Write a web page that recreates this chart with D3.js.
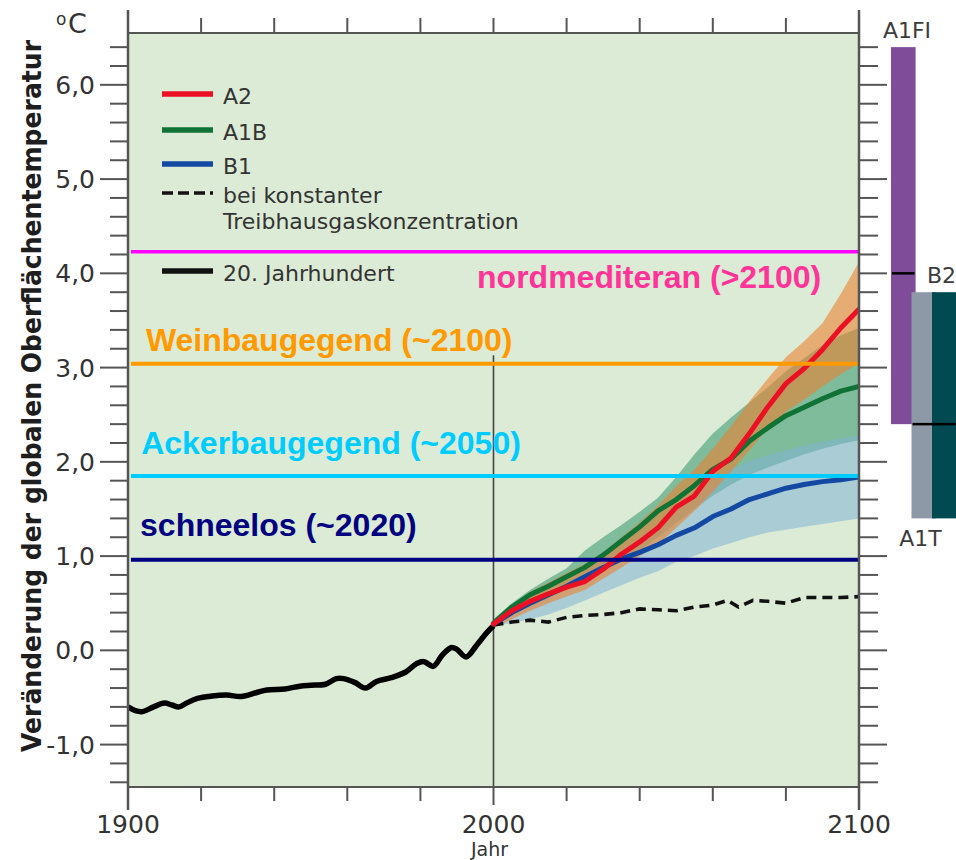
<!DOCTYPE html>
<html>
<head>
<meta charset="utf-8">
<script src="https://cdn.jsdelivr.net/npm/d3@7"></script>
<style>
  body { margin: 0; background: #fff; }
  svg { display: block; }
</style>
</head>
<body>
<svg id="chart" width="956" height="860"></svg>
<script>
// ---- data ----
const histYears = [1900, 1902, 1904, 1907, 1910, 1912, 1914, 1916, 1919, 1923, 1927, 1931, 1935, 1938, 1943, 1947, 1950, 1954, 1957, 1959, 1962, 1965, 1968, 1972, 1976, 1979, 1981, 1983.5, 1986, 1988.5, 1990, 1992.5, 1995.5, 1998, 2000];
const histVals  = [-0.60, -0.64, -0.65, -0.60, -0.56, -0.58, -0.60, -0.56, -0.51, -0.485, -0.475, -0.49, -0.45, -0.42, -0.41, -0.38, -0.37, -0.36, -0.30, -0.30, -0.34, -0.40, -0.33, -0.29, -0.23, -0.14, -0.12, -0.17, -0.05, 0.03, 0.01, -0.07, 0.06, 0.18, 0.26];

const futYears = [2000, 2005, 2010, 2015, 2020, 2025, 2030, 2035, 2040, 2045, 2050, 2055, 2060, 2065, 2070, 2075, 2080, 2085, 2090, 2095, 2100];
const a2Vals   = [0.28, 0.42, 0.52, 0.60, 0.67, 0.73, 0.86, 1.02, 1.15, 1.30, 1.52, 1.64, 1.90, 2.04, 2.30, 2.58, 2.83, 2.99, 3.19, 3.42, 3.62];
const a1bVals  = [0.29, 0.46, 0.59, 0.68, 0.78, 0.88, 1.01, 1.16, 1.31, 1.48, 1.60, 1.75, 1.92, 2.03, 2.22, 2.36, 2.49, 2.58, 2.67, 2.75, 2.80];
const b1Vals   = [0.28, 0.40, 0.50, 0.59, 0.68, 0.78, 0.88, 0.97, 1.04, 1.12, 1.22, 1.30, 1.42, 1.50, 1.60, 1.66, 1.72, 1.76, 1.79, 1.81, 1.84];

const a2Upper  = [0.32, 0.47, 0.62, 0.72, 0.82, 0.92, 1.04, 1.20, 1.36, 1.54, 1.74, 1.92, 2.14, 2.38, 2.64, 2.88, 3.11, 3.28, 3.47, 3.78, 4.12];
const a2Lower  = [0.24, 0.33, 0.42, 0.50, 0.57, 0.64, 0.76, 0.88, 1.00, 1.12, 1.30, 1.48, 1.68, 1.90, 2.12, 2.36, 2.53, 2.66, 2.80, 2.93, 3.05];
const a1bUpper = [0.33, 0.50, 0.64, 0.76, 0.87, 1.06, 1.20, 1.33, 1.47, 1.62, 1.84, 2.08, 2.30, 2.47, 2.63, 2.79, 2.96, 3.10, 3.24, 3.34, 3.42];
const a1bLower = [0.28, 0.38, 0.47, 0.55, 0.64, 0.74, 0.84, 0.95, 1.06, 1.20, 1.35, 1.50, 1.64, 1.76, 1.86, 1.94, 2.01, 2.08, 2.14, 2.19, 2.23];
const b1Upper  = [0.30, 0.40, 0.50, 0.60, 0.72, 0.84, 0.96, 1.08, 1.20, 1.34, 1.50, 1.66, 1.80, 1.92, 2.01, 2.07, 2.12, 2.17, 2.21, 2.25, 2.28];
const b1Lower  = [0.26, 0.29, 0.33, 0.38, 0.45, 0.53, 0.61, 0.69, 0.77, 0.84, 0.94, 1.00, 1.08, 1.14, 1.20, 1.25, 1.28, 1.31, 1.34, 1.37, 1.40];

const constYears = [2000, 2005, 2010, 2015, 2020, 2025, 2030, 2035, 2040, 2045, 2050, 2055, 2060, 2064, 2067, 2071, 2075, 2080, 2085, 2090, 2095, 2100];
const constVals  = [0.27, 0.30, 0.32, 0.30, 0.35, 0.37, 0.38, 0.40, 0.44, 0.43, 0.42, 0.46, 0.48, 0.53, 0.46, 0.53, 0.52, 0.50, 0.56, 0.56, 0.56, 0.57];

const barNames = ["A1FI", "A1T", "B2"];
const barLow   = [2.4, 1.4, 1.4];
const barHigh  = [6.4, 3.8, 3.8];
const barBest  = [4.0, 2.4, 2.4];
const barColors = ["#7f4c9a", "#8e99a8", "#014a52"];

const zoneNames  = ["nordmediteran (>2100)", "Weinbaugegend (~2100)", "Ackerbaugegend (~2050)", "schneelos (~2020)"];
const zoneVals   = [4.23, 3.04, 1.85, 0.96];
const zoneLine   = ["#ff00ff", "#ff9900", "#00ccff", "#000080"];
const zoneText   = ["#ff3399", "#ff9900", "#00ccff", "#000080"];
const zoneLabelYear = [1995.5, 1904.9, 1903.6, 1903.3];
const zoneLabelDy   = [36, -13, -22, -24];

const yTickVals   = [6, 5, 4, 3, 2, 1, 0, -1];
const yTickLabels = ["6,0", "5,0", "4,0", "3,0", "2,0", "1,0", "0,0", "-1,0"];
const xTickLabels = ["1900", "2000", "2100"];

// ---- scales ----
const svg = d3.select("#chart");
const x = d3.scaleLinear().domain([1900, 2100]).range([128, 859]);
const y = d3.scaleLinear().domain([-1.45, 6.55]).range([787, 33]);
const TXT = "'DejaVu Sans', sans-serif";

svg.append("defs").append("clipPath").attr("id", "plotclip")
  .append("rect").attr("x", x(1900)).attr("y", y(6.55))
  .attr("width", x(2100) - x(1900)).attr("height", y(-1.45) - y(6.55));

svg.append("rect")
  .attr("x", x(1900)).attr("y", y(6.55))
  .attr("width", x(2100) - x(1900)).attr("height", y(-1.45) - y(6.55))
  .attr("fill", "#dcebd5");

const plot = svg.append("g").attr("clip-path", "url(#plotclip)");

// ---- uncertainty bands ----
const band = d3.area().x(d => x(d[0])).y0(d => y(d[1])).y1(d => y(d[2]));
const zipBand = (lo, hi) => futYears.map((yr, i) => [yr, lo[i], hi[i]]);

plot.append("path").datum(zipBand(a1bLower, a1bUpper))
  .attr("d", band).attr("fill", "rgb(50,150,110)").attr("fill-opacity", 0.55);
plot.append("path").datum(zipBand(b1Lower, b1Upper))
  .attr("d", band).attr("fill", "rgb(127,179,213)").attr("fill-opacity", 0.55);
plot.append("path").datum(zipBand(a2Lower, a2Upper))
  .attr("d", band).attr("fill", "rgb(235,130,50)").attr("fill-opacity", 0.6);

// ---- lines ----
const line = d3.line().x(d => x(d[0])).y(d => y(d[1]));
const smooth = d3.line().x(d => x(d[0])).y(d => y(d[1])).curve(d3.curveCatmullRom);
const zip = (yrs, vals) => yrs.map((yr, i) => [yr, vals[i]]);

// 2000 divider
plot.append("line")
  .attr("x1", x(2000)).attr("x2", x(2000))
  .attr("y1", y(3.13)).attr("y2", y(-1.45))
  .attr("stroke", "#444").attr("stroke-width", 1.6);

plot.append("path").datum(zip(histYears, histVals))
  .attr("d", smooth).attr("fill", "none")
  .attr("stroke", "#000").attr("stroke-width", 5.5).attr("stroke-linejoin", "round");

plot.append("path").datum(zip(constYears, constVals))
  .attr("d", line).attr("fill", "none")
  .attr("stroke", "#111").attr("stroke-width", 3.6).attr("stroke-dasharray", "10,6");

const series = [
  { vals: b1Vals, color: "#1449a3" },
  { vals: a1bVals, color: "#117236" },
  { vals: a2Vals, color: "#ec1024" }
];
series.forEach(s => {
  plot.append("path").datum(zip(futYears, s.vals))
    .attr("d", line).attr("fill", "none")
    .attr("stroke", s.color).attr("stroke-width", 5)
    .attr("stroke-linejoin", "round").attr("stroke-linecap", "round");
});

// ---- threshold zones ----
zoneVals.forEach((v, i) => {
  svg.append("line")
    .attr("x1", x(1900.8)).attr("x2", x(2100))
    .attr("y1", y(v)).attr("y2", y(v))
    .attr("stroke", zoneLine[i]).attr("stroke-width", i === 0 ? 3.5 : 4);
  svg.append("text")
    .attr("x", x(zoneLabelYear[i])).attr("y", y(v) + zoneLabelDy[i])
    .attr("fill", zoneText[i])
    .style("font-family", "'Liberation Sans', Arial, sans-serif")
    .style("font-weight", "bold").style("font-size", "32px")
    .text(zoneNames[i]);
});

// ---- legend ----
const legend = svg.append("g").style("font-family", TXT).style("font-size", "22px").attr("fill", "#333");
const legendRows = [
  { y: 94,  color: "#ec1024", dash: null, label: ["A2"] },
  { y: 130, color: "#117236", dash: null, label: ["A1B"] },
  { y: 164, color: "#1449a3", dash: null, label: ["B1"] },
  { y: 193, color: "#111",    dash: "11,5", label: ["bei konstanter", "Treibhausgaskonzentration"] },
  { y: 271, color: "#111",    dash: null, label: ["20. Jahrhundert"] }
];
legendRows.forEach(r => {
  legend.append("line")
    .attr("x1", 162).attr("x2", 213).attr("y1", r.y).attr("y2", r.y)
    .attr("stroke", r.color).attr("stroke-width", r.dash ? 3.5 : 5.5)
    .attr("stroke-dasharray", r.dash);
  const t = legend.append("text").attr("x", 223).attr("y", r.y + 10);
  r.label.forEach((l, k) => {
    t.append("tspan").attr("x", 223).attr("dy", k === 0 ? 0 : 26).text(l);
  });
});

// ---- right-hand scenario bars ----
const bx = d3.scaleBand().domain(barNames).range([891, 952.5]);
barNames.forEach((n, i) => {
  svg.append("rect")
    .attr("x", bx(n)).attr("width", bx.bandwidth() * 1.2)
    .attr("y", y(barHigh[i])).attr("height", y(barLow[i]) - y(barHigh[i]))
    .attr("fill", barColors[i]);
});
barNames.forEach((n, i) => {
  svg.append("line")
    .attr("x1", bx(n) + 1).attr("x2", bx(n) + bx.bandwidth() * 1.2 - 1)
    .attr("y1", y(barBest[i])).attr("y2", y(barBest[i]))
    .attr("stroke", "#000").attr("stroke-width", 2.5);
});
const barLbl = svg.append("g").style("font-family", TXT).style("font-size", "22px").attr("fill", "#3c3c3c");
barLbl.append("text").attr("x", bx("A1FI") + 16).attr("y", y(barHigh[0]) - 9)
  .attr("text-anchor", "middle").text("A1FI");
barLbl.append("text").attr("x", bx("B2") - 5).attr("y", y(barHigh[2]) - 9).text("B2");
barLbl.append("text").attr("x", bx("A1T") + 9).attr("y", y(barLow[1]) + 28)
  .attr("text-anchor", "middle").text("A1T");

// ---- frame and ticks ----
const frame = svg.append("g").attr("stroke", "#555").attr("stroke-width", 2);
frame.append("line").attr("x1", x(1900)).attr("x2", x(2100)).attr("y1", y(6.55)).attr("y2", y(6.55));
frame.append("line").attr("x1", x(1900)).attr("x2", x(2100)).attr("y1", y(-1.45)).attr("y2", y(-1.45));
frame.append("line").attr("x1", x(1900)).attr("x2", x(1900)).attr("y1", 10).attr("y2", 810).attr("stroke-width", 2.5);
frame.append("line").attr("x1", x(2100)).attr("x2", x(2100)).attr("y1", 10).attr("y2", 810).attr("stroke-width", 2.5);

const minorY = d3.range(-1.4, 6.41, 0.2);
minorY.forEach(v => {
  const major = Math.abs(v - Math.round(v)) < 1e-6;
  frame.append("line").attr("x1", x(1900) - (major ? 28 : 18)).attr("x2", x(1900))
    .attr("y1", y(v)).attr("y2", y(v));
  frame.append("line").attr("x1", x(2100)).attr("x2", x(2100) + (major ? 28 : 19))
    .attr("y1", y(v)).attr("y2", y(v));
});
d3.range(1920, 2100, 20).forEach(yr => {
  const len = yr === 2000 ? 18 : 14;
  frame.append("line").attr("x1", x(yr)).attr("x2", x(yr)).attr("y1", y(6.55) - 15).attr("y2", y(6.55));
  frame.append("line").attr("x1", x(yr)).attr("x2", x(yr)).attr("y1", y(-1.45)).attr("y2", y(-1.45) + len);
});

const labels = svg.append("g").style("font-family", TXT).style("font-size", "25px").attr("fill", "#333");
yTickVals.forEach((v, i) => {
  labels.append("text").attr("x", 95).attr("y", y(v) + 9).attr("text-anchor", "end").text(yTickLabels[i]);
});
[1900, 2000, 2100].forEach((yr, i) => {
  labels.append("text").attr("x", x(yr)).attr("y", 833).attr("text-anchor", "middle").text(xTickLabels[i]);
});
labels.append("text").attr("x", x(2000) - 4).attr("y", 856).attr("text-anchor", "middle")
  .style("font-size", "19px").text("Jahr");
labels.append("text").attr("x", 56).attr("y", 25).style("font-size", "17px").text("o");
labels.append("text").attr("x", 68).attr("y", 33).style("font-size", "27px").text("C");

svg.append("text")
  .attr("transform", "translate(41,396) rotate(-90)")
  .attr("text-anchor", "middle")
  .attr("textLength", 712).attr("lengthAdjust", "spacingAndGlyphs")
  .style("font-family", TXT).style("font-weight", "bold").style("font-size", "26px")
  .attr("fill", "#1e1e1e")
  .text("Veränderung der globalen Oberflächentemperatur");
</script>
</body>
</html>
